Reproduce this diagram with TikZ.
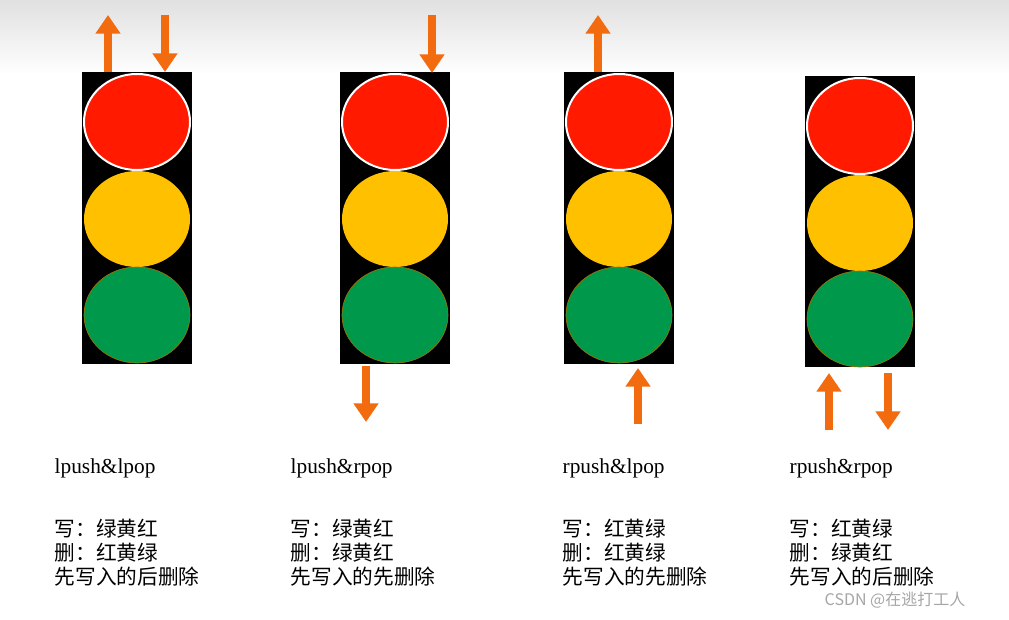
\documentclass[tikz,border=0pt]{standalone}
\usepackage{fontspec}
\setmainfont{Liberation Serif}
\newfontfamily\cjk{Noto Sans CJK SC}
\usetikzlibrary{arrows.meta}
\definecolor{aor}{HTML}{F26B0F}
\definecolor{lred}{HTML}{FF1A00}
\definecolor{lyel}{HTML}{FFC000}
\definecolor{lgrn}{HTML}{00994C}
\begin{document}
\begin{tikzpicture}[x=0.75pt,y=-0.75pt,
  arr/.style={draw=aor,line width=6pt,-{Triangle[width=18pt,length=14pt]}},
  lab/.style={anchor=west,font=\fontsize{16}{18}\selectfont},
  cn/.style={anchor=west,font=\cjk\fontsize{15.5}{18}\selectfont,align=left}]
\useasboundingbox (0,0) rectangle (1009,620);
\fill[white] (0,0) rectangle (1009,620);
\shade[top color=black!12,bottom color=white] (0,0) rectangle (1009,75);
\foreach \n/\cx/\ty/\by in {a/137/72/364,b/395/72/364,c/619/72/364,d/860/76/367}{
  \pgfmathsetmacro\r{\ty+50}\pgfmathsetmacro\yy{\ty+147}\pgfmathsetmacro\g{\ty+243}
  \node[fill=black,minimum width=82pt,minimum height={(\by-\ty)*0.75pt},inner sep=0,anchor=north] (box\n) at (\cx,\ty) {};
  \fill[lred,draw=white,line width=1.5pt] (\cx,\r) ellipse [x radius=53,y radius=48];
  \fill[lyel] (\cx,\yy) ellipse [x radius=53,y radius=48];
  \fill[lgrn,draw=lyel!60!black,line width=0.5pt] (\cx,\g) ellipse [x radius=53,y radius=48];
}
\coordinate (a1s) at (108,72); \coordinate (a1e) at (108,15);
\coordinate (a2s) at (165,15); \coordinate (a2e) at (165,72);
\coordinate (b1s) at (432,15); \coordinate (b1e) at (432,73);
\coordinate (b2s) at (366,366); \coordinate (b2e) at (366,422);
\coordinate (c1s) at (598,72); \coordinate (c1e) at (598,15);
\coordinate (c2s) at (638,424); \coordinate (c2e) at (638,368);
\coordinate (d1s) at (829,430); \coordinate (d1e) at (829,373);
\coordinate (d2s) at (888,373); \coordinate (d2e) at (888,430);
\foreach \p in {a1,a2,b1,b2,c1,c2,d1,d2}{\draw[arr] (\p s) -- (\p e);}
\node[lab] (t1) at (50,468) {lpush\&lpop};
\node[lab] (t2) at (286,468) {lpush\&rpop};
\node[lab] (t3) at (558,468) {rpush\&lpop};
\node[lab] (t4) at (785,468) {rpush\&rpop};
\node[cn,anchor=north west] (c1) at (50,514) {写：绿黄红\\删：红黄绿\\先写入的后删除};
\node[cn,anchor=north west] (c2) at (286,514) {写：绿黄红\\删：绿黄红\\先写入的先删除};
\node[cn,anchor=north west] (c3) at (558,514) {写：红黄绿\\删：红黄绿\\先写入的先删除};
\node[cn,anchor=north west] (c4) at (785,514) {写：红黄绿\\删：绿黄红\\先写入的后删除};
\node[anchor=west,text=black!35,font=\cjk\fontsize{12}{14}\selectfont] (wm) at (820,600) {CSDN @在逃打工人};
\end{tikzpicture}
\end{document}
